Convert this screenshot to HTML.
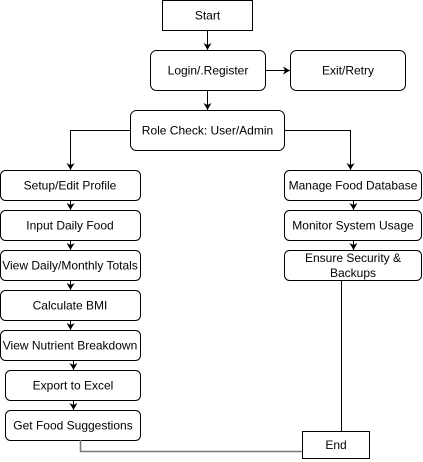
<!DOCTYPE html>
<html><head><meta charset="utf-8"><style>
html,body{margin:0;padding:0;background:#fff;}
svg{display:block;}
text{font-family:"Liberation Sans",Arial,sans-serif;font-size:12px;fill:#000;text-anchor:middle;dominant-baseline:central;}
</style></head><body>
<svg width="423" height="462" viewBox="0 0 423 462" xmlns="http://www.w3.org/2000/svg">
<defs><marker id="a" markerWidth="8" markerHeight="8" refX="7" refY="4" orient="auto" markerUnits="userSpaceOnUse"><path d="M0,0 L7,4 L0,8 L2,4 z" fill="#000"/></marker></defs>
<g fill="#fff" stroke="#000" stroke-width="1">
<rect x="162.5" y="0.5" width="90" height="30"/>
<rect x="150.5" y="50.5" width="115" height="40" rx="6"/>
<rect x="290.5" y="50.5" width="115" height="40" rx="6"/>
<rect x="130.5" y="110.5" width="154" height="40" rx="6"/>
<rect x="0.5" y="170.5" width="140" height="30" rx="5"/>
<rect x="0.5" y="210.5" width="140" height="30" rx="5"/>
<rect x="0.5" y="250.5" width="140" height="30" rx="5"/>
<rect x="0.5" y="290.5" width="140" height="30" rx="5"/>
<rect x="0.5" y="330.5" width="140" height="30" rx="5"/>
<rect x="5.5" y="370.5" width="135" height="30" rx="5"/>
<rect x="5.5" y="410.5" width="135" height="30" rx="5"/>
<rect x="284.5" y="170.5" width="137" height="30" rx="5"/>
<rect x="284.5" y="210.5" width="137" height="30" rx="5"/>
<rect x="284.5" y="250.5" width="137" height="30" rx="5"/>
<rect x="302.5" y="431.5" width="67" height="27"/>
</g>
<g fill="none" stroke="#000" stroke-width="1" marker-end="url(#a)">
<path d="M207.5 30 V50"/>
<path d="M265 70.5 H290"/>
<path d="M207.5 90 V110"/>
<path d="M130 130.5 H70.5 V170"/>
<path d="M284 130.5 H350.5 V170"/>
<path d="M70.5 200 V210"/>
<path d="M70.5 240 V250"/>
<path d="M70.5 280 V290"/>
<path d="M70.5 320 V330"/>
<path d="M73.5 360 V370"/>
<path d="M73.5 400 V410"/>
<path d="M353.5 200 V210"/>
<path d="M353.5 240 V250"/>
</g>
<path d="M341.5 280 V431" stroke="#000" fill="none"/>
<path d="M80.5 440 V451.5 H302" stroke="#777" stroke-width="1.5" fill="none"/>
<text x="207.5" y="15.5">Start</text>
<text x="208" y="70.5">Login/.Register</text>
<text x="348" y="70.5">Exit/Retry</text>
<text x="207.5" y="130.5">Role Check: User/Admin</text>
<text x="70" y="185.5">Setup/Edit Profile</text>
<text x="70" y="225.5">Input Daily Food</text>
<text x="70" y="265.5">View Daily/Monthly Totals</text>
<text x="70" y="305.5">Calculate BMI</text>
<text x="70" y="345.5">View Nutrient Breakdown</text>
<text x="73" y="385.5">Export to Excel</text>
<text x="73" y="425.5">Get Food Suggestions</text>
<text x="353" y="185.5">Manage Food Database</text>
<text x="353" y="225.5">Monitor System Usage</text>
<text x="353" y="258">Ensure Security &amp;</text>
<text x="353" y="273">Backups</text>
<text x="336" y="445">End</text>
</svg>
</body></html>
